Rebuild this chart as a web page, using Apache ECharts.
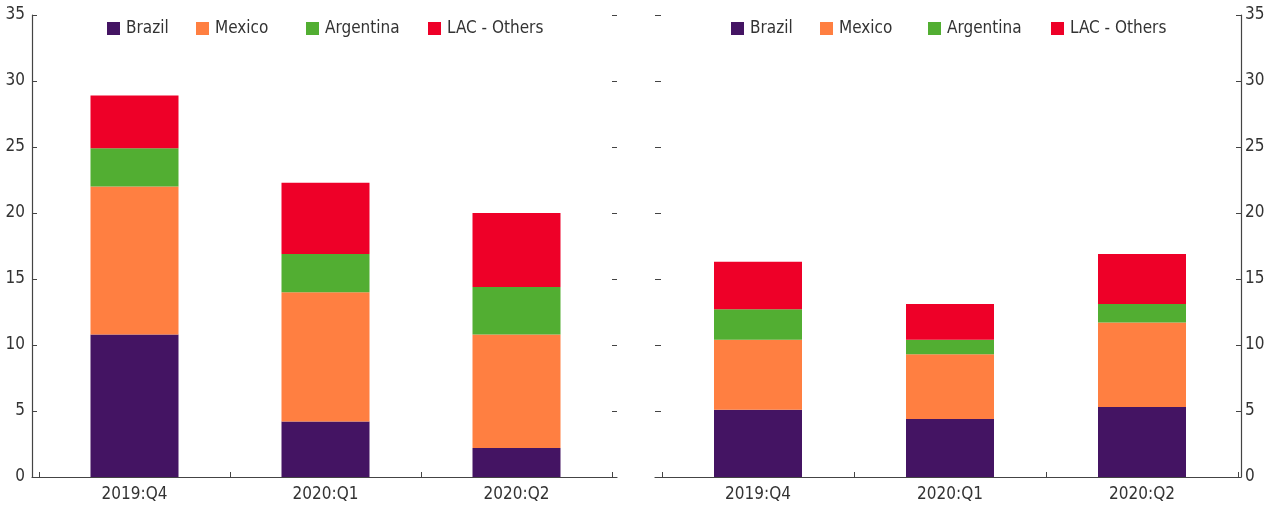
<!DOCTYPE html>
<html>
<head>
<meta charset="utf-8">
<script src="https://cdn.jsdelivr.net/npm/echarts@6/dist/echarts.min.js"></script>
<style>
  html, body { margin: 0; padding: 0; background: #fff; }
  #chart { width: 1270px; height: 510px; }
</style>
</head>
<body>
<div id="chart"></div>
<script>
// Quarters on the category axis
const categories = ['2019:Q4', '2020:Q1', '2020:Q2'];

// Left panel
const brazilL    = [10.8, 4.2, 2.2];
const mexicoL    = [11.2, 9.8, 8.6];
const argentinaL = [2.9, 2.9, 3.6];
const othersL    = [4.0, 5.4, 5.6];

// Right panel
const brazilR    = [5.1, 4.4, 5.3];
const mexicoR    = [5.3, 4.9, 6.4];
const argentinaR = [2.3, 1.1, 1.4];
const othersR    = [3.6, 2.7, 3.8];

const seriesNames = ['Brazil', 'Mexico', 'Argentina', 'LAC - Others'];
const yMin = 0, yMax = 35, yStep = 5;

const colors = ['#441463', '#FF7F41', '#52AE32', '#EE0028'];
const FONT = "'Liberation Sans Narrow', 'Arial Narrow', 'DejaVu Sans Condensed', sans-serif";
const INK = '#333333';
const AXIS = '#444444';

const W = 1270;
// outer frame (axis lines) and inner plot area (categories) for each panel
const frames = [
  { outer: [32, 617], inner: [39, 612], legendX: [107, 196, 306, 428] },
  { outer: [655, 1241], inner: [662, 1238], legendX: [731, 820, 928, 1051] }
];
const TOP = 15, BOTTOM = 33;

const grids = [];
frames.forEach(f => {
  grids.push({ left: f.outer[0], right: W - f.outer[1], top: TOP, bottom: BOTTOM });
  grids.push({ left: f.inner[0], right: W - f.inner[1], top: TOP, bottom: BOTTOM });
});

const lineOnlyX = (gi) => ({
  type: 'category', gridIndex: gi, data: categories,
  axisLine: { show: true, lineStyle: { color: AXIS, width: 1.2 } },
  axisTick: { show: false }, axisLabel: { show: false }, splitLine: { show: false }
});
const catX = (gi) => ({
  type: 'category', gridIndex: gi, data: categories,
  axisLine: { show: false },
  axisTick: { show: true, inside: true, length: 5, lineStyle: { color: AXIS } },
  axisLabel: { color: INK, fontFamily: FONT, fontSize: 17, margin: 9 },
  splitLine: { show: false }
});
const valY = (gi, pos, opts) => Object.assign({
  type: 'value', gridIndex: gi, position: pos, min: yMin, max: yMax, interval: yStep,
  splitLine: { show: false }
}, opts);

const xAxes = [lineOnlyX(0), catX(1), lineOnlyX(2), catX(3)];
const yAxes = [
  // left panel: labelled axis on the left, tick-only on the right
  valY(0, 'left', {
    axisLine: { show: true, lineStyle: { color: AXIS, width: 1.2 } },
    axisTick: { show: true, inside: true, length: 5, lineStyle: { color: AXIS } },
    axisLabel: { color: INK, fontFamily: FONT, fontSize: 17, margin: 7 }
  }),
  valY(0, 'right', {
    axisLine: { show: false },
    axisTick: { show: true, inside: true, length: 5, lineStyle: { color: AXIS } },
    axisLabel: { show: false }
  }),
  valY(1, 'left', { show: false }),
  // right panel: labelled axis on the right, tick-only on the left
  valY(2, 'right', {
    axisLine: { show: true, lineStyle: { color: AXIS, width: 1.2 } },
    axisTick: { show: true, inside: true, length: 5, lineStyle: { color: AXIS } },
    axisLabel: { color: INK, fontFamily: FONT, fontSize: 17, margin: 4 }
  }),
  valY(2, 'left', {
    axisLine: { show: false },
    axisTick: { show: true, inside: true, length: 6, lineStyle: { color: AXIS } },
    axisLabel: { show: false }
  }),
  valY(3, 'left', { show: false })
];

const leftData = [brazilL, mexicoL, argentinaL, othersL];
const rightData = [brazilR, mexicoR, argentinaR, othersR];

const series = [];
[[leftData, 1, 2, 'L'], [rightData, 3, 5, 'R']].forEach(([sets, xi, yi, tag]) => {
  sets.forEach((vals, i) => {
    series.push({
      name: seriesNames[i], type: 'bar', stack: 'total' + tag,
      xAxisIndex: xi, yAxisIndex: yi, data: vals,
      barWidth: 88, itemStyle: { color: colors[i] },
      emphasis: { disabled: true }
    });
  });
});

// one legend entry per key, placed above each panel
const legends = [];
frames.forEach(f => {
  seriesNames.forEach((name, i) => {
    legends.push({
      data: [name], left: f.legendX[i], top: 20, padding: 0,
      itemWidth: 13, itemHeight: 13, icon: 'rect', selectedMode: false,
      textStyle: { color: INK, fontFamily: FONT, fontSize: 17, lineHeight: 14, padding: [0, 0, 0, 1] }
    });
  });
});

const chart = echarts.init(document.getElementById('chart'), null, { renderer: 'canvas' });
chart.setOption({
  animation: false,
  color: colors,
  grid: grids,
  xAxis: xAxes,
  yAxis: yAxes,
  legend: legends,
  series: series
});
</script>
</body>
</html>
